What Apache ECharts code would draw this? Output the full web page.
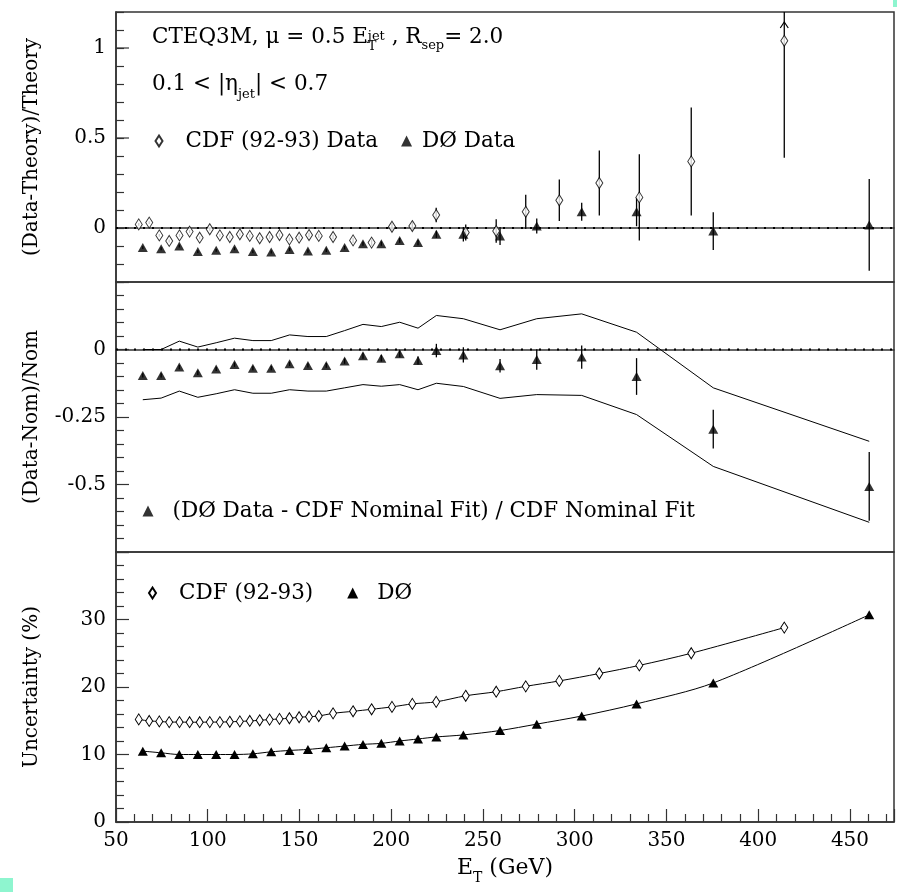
<!DOCTYPE html>
<html><head><meta charset="utf-8">
<script src="https://cdn.jsdelivr.net/npm/echarts@6/dist/echarts.min.js"></script>
<style>html,body{margin:0;padding:0;background:#fff}#c{width:897px;height:892px}</style>
</head><body><div id="c"></div><script>
// ---- data ----
const cdfEt = [62.4, 68.1, 73.6, 79.0, 84.6, 90.1, 95.6, 101.1, 106.6, 112.0, 117.5, 122.9, 128.3, 133.7, 139.1, 144.5, 149.8, 155.2, 160.5, 168.3, 179.2, 189.3, 200.4, 211.5, 224.5, 240.6, 257.2, 273.3, 291.6, 313.4, 335.2, 363.5, 414.2];
const cdfRatio = [0.02, 0.03, -0.041, -0.072, -0.041, -0.02, -0.054, -0.007, -0.041, -0.05, -0.035, -0.044, -0.057, -0.05, -0.039, -0.063, -0.054, -0.039, -0.044, -0.05, -0.069, -0.081, 0.007, 0.011, 0.072, -0.025, -0.017, 0.09, 0.154, 0.25, 0.17, 0.37, 1.04];
const cdfRatioErr = [0.008, 0.008, 0.008, 0.008, 0.008, 0.008, 0.008, 0.008, 0.008, 0.008, 0.008, 0.009, 0.009, 0.01, 0.01, 0.01, 0.011, 0.012, 0.012, 0.013, 0.015, 0.017, 0.02, 0.024, 0.04, 0.045, 0.065, 0.095, 0.115, 0.18, 0.24, 0.30, 0.65];
const d0Et = [64.6, 74.6, 84.5, 94.6, 104.6, 114.6, 124.6, 134.6, 144.6, 154.6, 164.6, 174.6, 184.6, 194.6, 204.6, 214.6, 224.6, 239.3, 259.3, 279.3, 303.8, 333.7, 375.5, 460.5];
const d0Ratio = [-0.109, -0.115, -0.1, -0.131, -0.124, -0.115, -0.131, -0.133, -0.119, -0.128, -0.124, -0.109, -0.087, -0.087, -0.069, -0.081, -0.035, -0.035, -0.044, 0.011, 0.09, 0.09, -0.017, 0.017];
const d0RatioErr = [0.008, 0.008, 0.008, 0.008, 0.008, 0.008, 0.008, 0.008, 0.009, 0.009, 0.01, 0.01, 0.011, 0.012, 0.013, 0.015, 0.02, 0.04, 0.05, 0.042, 0.05, 0.08, 0.105, 0.255];
const d0Nom = [-0.096, -0.096, -0.065, -0.086, -0.072, -0.056, -0.069, -0.069, -0.053, -0.059, -0.059, -0.043, -0.023, -0.032, -0.016, -0.041, -0.004, -0.02, -0.06, -0.037, -0.028, -0.1, -0.295, -0.507];
const d0NomErr = [0.008, 0.008, 0.008, 0.008, 0.008, 0.008, 0.008, 0.008, 0.008, 0.008, 0.009, 0.01, 0.011, 0.012, 0.013, 0.015, 0.025, 0.028, 0.025, 0.038, 0.043, 0.068, 0.072, 0.127];
const bandUpper = [0.0, 0.0, 0.031, 0.009, 0.025, 0.042, 0.033, 0.033, 0.054, 0.048, 0.048, 0.07, 0.093, 0.085, 0.101, 0.079, 0.126, 0.114, 0.073, 0.114, 0.132, 0.064, -0.142, -0.34];
const bandLower = [-0.186, -0.18, -0.154, -0.177, -0.164, -0.149, -0.162, -0.162, -0.149, -0.154, -0.154, -0.142, -0.13, -0.136, -0.13, -0.149, -0.125, -0.137, -0.181, -0.167, -0.17, -0.241, -0.433, -0.64];
const cdfUnc = [15.2, 14.97, 14.9, 14.8, 14.8, 14.78, 14.78, 14.8, 14.8, 14.85, 14.9, 14.97, 15.07, 15.17, 15.27, 15.37, 15.52, 15.6, 15.7, 16.1, 16.4, 16.7, 17.05, 17.5, 17.8, 18.7, 19.3, 20.1, 20.9, 22.0, 23.2, 25.0, 28.8];
const d0Unc = [10.5, 10.25, 10.0, 10.0, 10.0, 10.0, 10.1, 10.4, 10.6, 10.75, 11.0, 11.25, 11.5, 11.65, 12.0, 12.3, 12.6, 12.9, 13.55, 14.5, 15.7, 17.5, 20.6, 30.7];
const xRange = [50, 474];
const yTopRange = [-0.3, 1.2];
const yMidRange = [-0.75, 0.25];
const yBotRange = [0, 40];
const yTopMajor = [0, 0.5, 1];
const zeroLevel = [0];

// ---- chart ----
const FONT = 'DejaVu Serif';
const INK = '#000';
const FRAME = '#333';
const pair = (xs, ys) => xs.map((x, i) => [x, ys[i]]);
const triple = (xs, ys, es) => xs.map((x, i) => [x, ys[i], es[i]]);

function errRender(params, api) {
  const x = api.value(0), y = api.value(1), e = api.value(2);
  const cs = params.coordSys;
  const p1 = api.coord([x, y + e]);
  const p2 = api.coord([x, y - e]);
  const top = cs.y, bot = cs.y + cs.height;
  const children = [{
    type: 'line',
    shape: { x1: p1[0], y1: Math.max(top, p1[1]), x2: p2[0], y2: Math.min(bot, p2[1]) },
    style: { stroke: INK, lineWidth: 1.3 }
  }];
  if (p1[1] < top) {
    children.push({
      type: 'polyline',
      shape: { points: [[p1[0] - 4, top + 16], [p1[0], top + 10], [p1[0] + 4, top + 16]] },
      style: { stroke: INK, fill: 'none', lineWidth: 1.2 }
    });
  }
  return { type: 'group', children };
}
function zeroRender(params, api) {
  const cs = params.coordSys;
  const p = api.coord([api.value(0), api.value(1)]);
  return { type: 'line', shape: { x1: cs.x, y1: p[1], x2: cs.x + cs.width, y2: p[1] },
    style: { stroke: INK, lineWidth: 2, lineDash: [2, 7] } };
}
function majorTickRender(params, api) {
  const p = api.coord([api.value(0), api.value(1)]);
  return { type: 'line', shape: { x1: p[0], y1: p[1], x2: p[0] + 13, y2: p[1] },
    style: { stroke: FRAME, lineWidth: 1.2 } };
}

function labelFmt(lo, hi, step) {
  return v => {
    if (v <= lo + 1e-9 || v >= hi - 1e-9) return '';
    if (step) { const r = Math.round(v / step) * step; if (Math.abs(v - r) > 1e-6) return ''; return String(+r.toFixed(3)); }
    return String(+v.toFixed(3));
  };
}

const gridCommon = { left: 116, width: 778, height: 270, show: true, borderColor: FRAME, borderWidth: 1.5 };
const axisLineStyle = { show: true, lineStyle: { color: FRAME, width: 1.5 } };
const labelStyle = { fontSize: 20, fontFamily: FONT, color: INK };

function xAxisFor(i, showTicks) {
  return {
    type: 'value', gridIndex: i, min: xRange[0], max: xRange[1], interval: 50,
    axisLine: axisLineStyle, splitLine: { show: false },
    axisTick: { show: showTicks, inside: true, length: 13, lineStyle: { color: FRAME, width: 1.2 } },
    minorTick: { show: showTicks, splitNumber: 5, length: 8, lineStyle: { color: FRAME, width: 1.2 } },
    axisLabel: Object.assign({ show: showTicks, margin: 9, formatter: labelFmt(-1e9, xRange[1]) }, labelStyle),
    name: showTicks ? '{a|E}{b|T}{a| (GeV)}' : '',
    nameLocation: 'middle', nameGap: 35,
    nameTextStyle: { rich: {
      a: { fontSize: 22, fontFamily: FONT, color: INK, lineHeight: 24, verticalAlign: 'top' },
      b: { fontSize: 14, fontFamily: FONT, color: INK, lineHeight: 14, verticalAlign: 'top', padding: [14, 0, 0, 0] }
    } }
  };
}
function yAxisFor(i, range, interval, name, opts) {
  return Object.assign({
    type: 'value', gridIndex: i, min: range[0], max: range[1], interval: interval,
    axisLine: axisLineStyle, splitLine: { show: false },
    axisTick: { show: true, inside: true, length: 13, lineStyle: { color: FRAME, width: 1.2 } },
    minorTick: { show: true, splitNumber: 5, length: 8, lineStyle: { color: FRAME, width: 1.2 } },
    axisLabel: Object.assign({ margin: 10, formatter: labelFmt(range[0] === 0 ? -1 : range[0], range[1]) }, labelStyle),
    name: name, nameLocation: 'middle', nameRotate: 90, nameGap: 74,
    nameTextStyle: { fontSize: 20, fontFamily: FONT, color: INK }
  }, opts || {});
}

const diamondStyle = { color: '#fff', borderColor: INK, borderWidth: 1 };
const triStyle = { color: INK, borderColor: INK, borderWidth: 0 };
const legendText = { fontSize: 21.5, lineHeight: 22, fontFamily: FONT, color: INK };
const diamondIcon = 'path://M0 0M11 11M5.5 0L9 5.5L5.5 11L2 5.5Z';

const rich = {
  m: { fontSize: 21.5, fontFamily: FONT, color: INK, lineHeight: 26, verticalAlign: 'top' },
  sp: { fontSize: 13, fontFamily: FONT, color: INK, lineHeight: 13, verticalAlign: 'top', padding: [4, 0, 0, 0] },
  sbw: { fontSize: 13, fontFamily: FONT, color: INK, lineHeight: 13, verticalAlign: 'top', padding: [14, 0, 0, 0], width: 0 },
  sb: { fontSize: 13, fontFamily: FONT, color: INK, lineHeight: 13, verticalAlign: 'top', padding: [13, 0, 0, 0] },
  sb2: { fontSize: 13, fontFamily: FONT, color: INK, lineHeight: 13, verticalAlign: 'top', padding: [15, 0, 0, 0] }
};

const option = {
  animation: false,
  backgroundColor: '#fff',
  grid: [
    Object.assign({ top: 12 }, gridCommon),
    Object.assign({ top: 282 }, gridCommon),
    Object.assign({ top: 552 }, gridCommon)
  ],
  xAxis: [xAxisFor(0, false), xAxisFor(1, false), xAxisFor(2, true)],
  yAxis: [
    yAxisFor(0, yTopRange, 0.1, '(Data-Theory)/Theory', {
      axisTick: { show: true, inside: true, length: 8, lineStyle: { color: FRAME, width: 1.2 } },
      minorTick: { show: false },
      axisLabel: Object.assign({ margin: 10, formatter: labelFmt(yTopRange[0], yTopRange[1], 0.5) }, labelStyle)
    }),
    yAxisFor(1, yMidRange, 0.25, '(Data-Nom)/Nom'),
    yAxisFor(2, yBotRange, 10, 'Uncertainty (%)')
  ],
  legend: [
    { left: 152.5, top: 130, padding: 0, selectedMode: false, itemWidth: 11, itemHeight: 11, itemGap: 23,
      textStyle: legendText,
      data: [
        { name: 'CDF (92-93) Data', icon: diamondIcon, textStyle: { padding: [0, 0, 0, 16] } },
        { name: 'DØ Data', icon: 'triangle', textStyle: { padding: [0, 0, 0, 5] } }
      ] },
    { left: 142.5, top: 500, padding: 0, selectedMode: false, itemWidth: 11, itemHeight: 11,
      textStyle: legendText,
      data: [{ name: '(DØ Data - CDF Nominal Fit) / CDF Nominal Fit', icon: 'triangle', textStyle: { padding: [0, 0, 0, 14] } }] },
    { left: 146, top: 582, padding: 0, selectedMode: false, itemWidth: 11, itemHeight: 11, itemGap: 34,
      textStyle: legendText, lineStyle: { width: 0, opacity: 0 },
      data: [
        { name: 'CDF (92-93)', icon: diamondIcon, textStyle: { padding: [0, 0, 0, 16] } },
        { name: 'DØ', icon: 'triangle', textStyle: { padding: [0, 0, 0, 14] } }
      ] }
  ],
  graphic: [
    { type: 'text', x: 152, y: 26,
      style: { text: '{m|CTEQ3M, μ = 0.5 E}{sbw|T}{sp|jet}{m| , R}{sb|sep}{m|= 2.0}', rich: rich } },
    { type: 'text', x: 152, y: 73,
      style: { text: '{m|0.1 < |η}{sb2|jet}{m|| < 0.7}', rich: rich } },
    { type: 'rect', x: 0, y: 878, shape: { width: 13, height: 14 }, style: { fill: '#8ef5cf' } },
    { type: 'rect', x: 893, y: 0, shape: { width: 4, height: 7 }, style: { fill: '#8ef5cf' } }
  ],
  series: [
    // top panel
    { type: 'custom', xAxisIndex: 0, yAxisIndex: 0, renderItem: majorTickRender, data: yTopMajor.map(v => [xRange[0], v]), z: 1, silent: true },
    { type: 'custom', xAxisIndex: 0, yAxisIndex: 0, renderItem: zeroRender, data: zeroLevel.map(v => [xRange[0], v]), z: 1, silent: true },
    { type: 'custom', xAxisIndex: 0, yAxisIndex: 0, renderItem: errRender, data: triple(cdfEt, cdfRatio, cdfRatioErr), z: 2, silent: true },
    { type: 'custom', xAxisIndex: 0, yAxisIndex: 0, renderItem: errRender, data: triple(d0Et, d0Ratio, d0RatioErr), z: 2, silent: true },
    { name: 'CDF (92-93) Data', type: 'scatter', xAxisIndex: 0, yAxisIndex: 0, data: pair(cdfEt, cdfRatio),
      symbol: 'diamond', symbolSize: [7, 11], itemStyle: diamondStyle, z: 4 },
    { name: 'DØ Data', type: 'scatter', xAxisIndex: 0, yAxisIndex: 0, data: pair(d0Et, d0Ratio),
      symbol: 'triangle', symbolSize: [10, 9], itemStyle: triStyle, z: 5 },
    // middle panel
    { type: 'custom', xAxisIndex: 1, yAxisIndex: 1, renderItem: zeroRender, data: zeroLevel.map(v => [xRange[0], v]), z: 1, silent: true },
    { type: 'line', xAxisIndex: 1, yAxisIndex: 1, data: pair(d0Et, bandUpper), showSymbol: false, symbol: 'none',
      lineStyle: { color: INK, width: 1 }, silent: true },
    { type: 'line', xAxisIndex: 1, yAxisIndex: 1, data: pair(d0Et, bandLower), showSymbol: false, symbol: 'none',
      lineStyle: { color: INK, width: 1 }, silent: true },
    { type: 'custom', xAxisIndex: 1, yAxisIndex: 1, renderItem: errRender, data: triple(d0Et, d0Nom, d0NomErr), z: 2, silent: true },
    { name: '(DØ Data - CDF Nominal Fit) / CDF Nominal Fit', type: 'scatter', xAxisIndex: 1, yAxisIndex: 1,
      data: pair(d0Et, d0Nom), symbol: 'triangle', symbolSize: [10, 9], itemStyle: triStyle, z: 5 },
    // bottom panel
    { name: 'CDF (92-93)', type: 'line', xAxisIndex: 2, yAxisIndex: 2, data: pair(cdfEt, cdfUnc), smooth: 0.3,
      symbol: 'diamond', symbolSize: [7, 11], showAllSymbol: true, itemStyle: diamondStyle, lineStyle: { color: INK, width: 1 }, z: 4 },
    { name: 'DØ', type: 'line', xAxisIndex: 2, yAxisIndex: 2, data: pair(d0Et, d0Unc), smooth: 0.3,
      symbol: 'triangle', symbolSize: [10, 9], showAllSymbol: true, itemStyle: triStyle, lineStyle: { color: INK, width: 1 }, z: 5 }
  ]
};
const chart = echarts.init(document.getElementById('c'));
chart.setOption(option);
</script></body></html>
